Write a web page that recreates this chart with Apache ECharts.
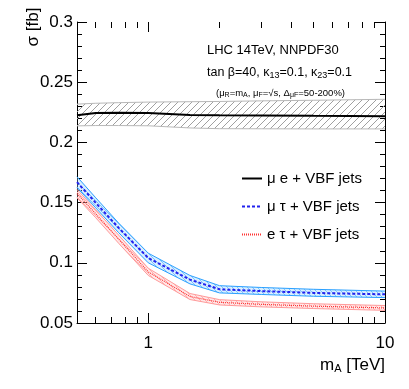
<!DOCTYPE html>
<html>
<head>
<meta charset="utf-8">
<title>sigma vs mA</title>
<script src="https://cdn.jsdelivr.net/npm/echarts@6/dist/echarts.min.js"></script>
<style>
  html, body { margin: 0; padding: 0; background: #fff; }
  #chart { width: 409px; height: 389px; }
</style>
</head>
<body>
<div id="chart"></div>
<script>
// masses in TeV
var massPts = [0.5, 0.6, 0.75, 1, 1.5, 2, 3, 5, 10];

// mu e + VBF jets (with scale band)
var muE      = [0.2225, 0.2245, 0.2246, 0.2245, 0.2228, 0.2225, 0.2224, 0.2221, 0.2218];
var muEUp    = [0.2318, 0.2325, 0.2330, 0.2335, 0.2338, 0.2340, 0.2345, 0.2350, 0.2358];
var muELow   = [0.2137, 0.2140, 0.2140, 0.2138, 0.2120, 0.2114, 0.2113, 0.2112, 0.2112];

// mu tau + VBF jets
var muTau    = [0.1670, 0.1498, 0.1290, 0.1040, 0.0860, 0.0780, 0.0765, 0.0750, 0.0738];
var muTauUp  = [0.1715, 0.1540, 0.1330, 0.1080, 0.0895, 0.0810, 0.0795, 0.0780, 0.0765];
var muTauLow = [0.1625, 0.1456, 0.1250, 0.1000, 0.0825, 0.0750, 0.0737, 0.0722, 0.0711];

// e tau + VBF jets
var eTau     = [0.1575, 0.1407, 0.1196, 0.0925, 0.0720, 0.0672, 0.0655, 0.0640, 0.0625];
var eTauUp   = [0.1610, 0.1440, 0.1230, 0.0955, 0.0745, 0.0694, 0.0676, 0.0660, 0.0645];
var eTauLow  = [0.1540, 0.1374, 0.1162, 0.0895, 0.0695, 0.0650, 0.0634, 0.0620, 0.0605];

var xMajorTicks = [1, 10];
var xMinorTicks = [0.6, 0.7, 0.8, 0.9, 2, 3, 4, 5, 6, 7, 8, 9];
var xLabels = [1, 10];

var FONT = "'Liberation Sans', Arial, sans-serif";
var lg = function (v) { return Math.log(v) / Math.LN10; };

function pairs(ys) {
    return massPts.map(function (m, i) { return [lg(m), ys[i]]; });
}

// hatch pattern for the bands
function hatch(line, bg, size, back) {
    var c = document.createElement('canvas');
    c.width = c.height = size;
    var ctx = c.getContext('2d');
    if (bg) { ctx.fillStyle = bg; ctx.fillRect(0, 0, size, size); }
    ctx.strokeStyle = line;
    ctx.lineWidth = 1;
    ctx.beginPath();
    if (!back) {
        ctx.moveTo(0, size); ctx.lineTo(size, 0);
        ctx.moveTo(-1, 1); ctx.lineTo(1, -1);
        ctx.moveTo(size - 1, size + 1); ctx.lineTo(size + 1, size - 1);
    } else {
        ctx.moveTo(0, 0); ctx.lineTo(size, size);
        ctx.moveTo(-1, size - 1); ctx.lineTo(1, size + 1);
        ctx.moveTo(size - 1, -1); ctx.lineTo(size + 1, 1);
    }
    ctx.stroke();
    return { image: c, repeat: 'repeat' };
}

function band(name, up, low, edge, fill) {
    return {
        name: name,
        type: 'custom',
        z: 2,
        silent: true,
        data: [[lg(massPts[0]), low[0]]],
        renderItem: function (params, api) {
            var top = massPts.map(function (m, i) { return api.coord([lg(m), up[i]]); });
            var bot = massPts.map(function (m, i) { return api.coord([lg(m), low[i]]); });
            return {
                type: 'group',
                children: [
                    { type: 'polygon', shape: { points: top.concat(bot.slice().reverse()) },
                      style: { fill: fill, stroke: null } },
                    { type: 'polyline', shape: { points: top }, style: { stroke: edge, lineWidth: 1, fill: null } },
                    { type: 'polyline', shape: { points: bot }, style: { stroke: edge, lineWidth: 1, fill: null } }
                ]
            };
        }
    };
}

function xAxisDef(pos, ticks, len, labels) {
    return {
        type: 'value',
        position: pos,
        min: lg(0.5),
        max: 1,
        axisLine: { show: labels, onZero: false, lineStyle: { color: '#000', width: 1 } },
        axisTick: { show: true, inside: true, length: len, customValues: ticks.map(lg),
                    lineStyle: { color: '#000', width: 1 } },
        axisLabel: { show: labels, customValues: xLabels.map(lg), margin: 12,
                     fontSize: 17, fontFamily: FONT, color: '#000',
                     formatter: function (v) { return String(Math.round(Math.pow(10, v))); } },
        splitLine: { show: false }
    };
}

function yAxisDef(pos, labels) {
    return {
        type: 'value',
        position: pos,
        min: 0.05,
        max: 0.3,
        interval: 0.05,
        axisLine: { show: true, onZero: false, lineStyle: { color: '#000', width: 1 } },
        axisTick: { show: true, inside: true, length: 10, lineStyle: { color: '#000' } },
        minorTick: { show: true, splitNumber: 5, length: 5, lineStyle: { color: '#000' } },
        axisLabel: { show: labels, margin: 4, fontSize: 17, fontFamily: FONT, color: '#000' },
        splitLine: { show: false }
    };
}

var chart = echarts.init(document.getElementById('chart'));
var option = {
    animation: false,
    backgroundColor: '#fff',
    grid: { left: 77, right: 24, top: 22, bottom: 66 },
    xAxis: [
        xAxisDef('bottom', xMajorTicks, 10, true),
        xAxisDef('bottom', xMinorTicks, 6, false),
        xAxisDef('top', xMajorTicks, 10, false),
        xAxisDef('top', xMinorTicks, 6, false)
    ],
    yAxis: [yAxisDef('left', true), yAxisDef('right', false)],
    legend: {
        data: ['μ e + VBF jets', 'μ τ + VBF jets', 'e τ + VBF jets'],
        orient: 'vertical',
        left: 236,
        top: 166,
        itemWidth: 20,
        itemHeight: 14,
        itemGap: 13,
        itemStyle: { opacity: 0 },
        textStyle: { fontSize: 15, fontFamily: FONT, color: '#000' }
    },
    graphic: [
        { type: 'text', x: 33, y: 27, rotation: Math.PI / 2,
          style: { text: 'σ [fb]', fontSize: 17, fontFamily: FONT, fill: '#000',
                   align: 'center', verticalAlign: 'middle' } },
        { type: 'text', x: 385, y: 365,
          style: { text: '{n|m}{s|A}{n| [TeV]}', fill: '#000', align: 'right', verticalAlign: 'middle',
                   rich: { n: { fontSize: 17, fontFamily: FONT, lineHeight: 18 },
                           s: { fontSize: 11, fontFamily: FONT, lineHeight: 6, verticalAlign: 'bottom' } } } },
        { type: 'text', x: 207, y: 50,
          style: { text: 'LHC 14TeV, NNPDF30', fontSize: 13, fontFamily: FONT, fill: '#000',
                   align: 'left', verticalAlign: 'middle' } },
        { type: 'text', x: 207, y: 73,
          style: { text: '{n|tan β=40, κ}{s|13}{n|=0.1, κ}{s|23}{n|=0.1}', fill: '#000',
                   align: 'left', verticalAlign: 'middle',
                   rich: { n: { fontSize: 12.5, fontFamily: FONT, lineHeight: 15 },
                           s: { fontSize: 9, fontFamily: FONT, lineHeight: 5, verticalAlign: 'bottom' } } } },
        { type: 'text', x: 345, y: 93,
          style: { text: '{n|(μ}{s|R}{n|=m}{s|A}{n|, μ}{s|F}{n|=√s, Δ}{s|μF}{n|=50-200%)}', fill: '#000',
                   align: 'right', verticalAlign: 'middle',
                   rich: { n: { fontSize: 9.5, fontFamily: FONT, lineHeight: 11 },
                           s: { fontSize: 7, fontFamily: FONT, lineHeight: 4, verticalAlign: 'bottom' } } } }
    ],
    series: [
        band('muEBand', muEUp, muELow, '#b8b8b8', hatch('#a0a0a0', null, 7, false)),
        band('muTauBand', muTauUp, muTauLow, '#2aa0ff', hatch('#7cc4ff', 'rgba(150,210,255,0.35)', 5, true)),
        band('eTauBand', eTauUp, eTauLow, '#ff9a9a', hatch('#ffb0b0', 'rgba(255,190,190,0.35)', 5, true)),
        {
            name: 'μ e + VBF jets', type: 'line', z: 3, symbol: 'none', silent: true,
            data: pairs(muE),
            itemStyle: { color: '#000' },
            lineStyle: { color: '#000', width: 2, type: 'solid' }
        },
        {
            name: 'μ τ + VBF jets', type: 'line', z: 3, symbol: 'none', silent: true,
            data: pairs(muTau),
            itemStyle: { color: '#2222ee' },
            lineStyle: { color: '#2222ee', width: 2, type: [3, 2] }
        },
        {
            name: 'e τ + VBF jets', type: 'line', z: 3, symbol: 'none', silent: true,
            data: pairs(eTau),
            itemStyle: { color: '#ff3333' },
            lineStyle: { color: '#ff3333', width: 1.2, type: [1, 1] }
        }
    ]
};
chart.setOption(option);
</script>
</body>
</html>
